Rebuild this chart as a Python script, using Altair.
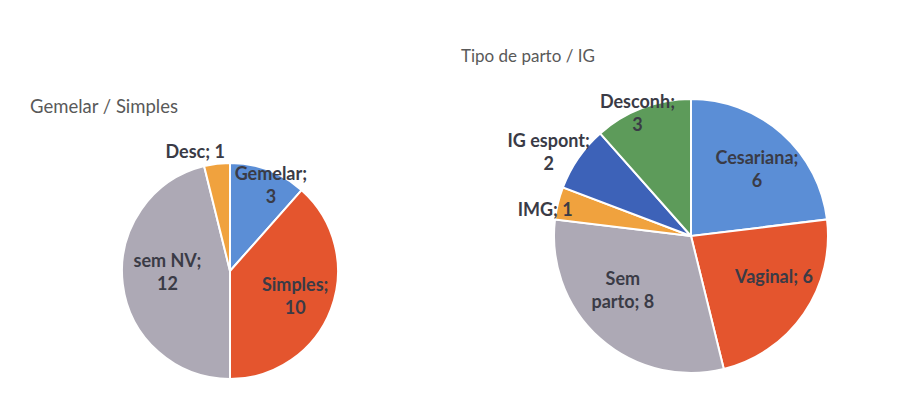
import altair as alt
import pandas as pd

# ---- data ----
left_cats = ["Gemelar", "Simples", "sem NV", "Desc"]
left_vals = [3, 10, 12, 1]
left_labels = ["Gemelar;\n3", "Simples;\n10", "sem NV;\n12", "Desc; 1"]

right_cats = ["Cesariana", "Vaginal", "Sem parto", "IMG", "IG espont", "Desconh"]
right_vals = [6, 6, 8, 1, 2, 3]
right_labels = ["Cesariana;\n6", "Vaginal; 6", "Sem\nparto; 8", "IMG; 1", "IG espont;\n2", "Desconh;\n3"]

# ---- styles / layout ----
left_colors = ["#5B8ED6", "#E4552E", "#ADA9B5", "#F0A23E"]
right_colors = ["#5B8ED6", "#E4552E", "#ADA9B5", "#F0A23E", "#3D62B8", "#5D9B5A"]
# label placement: radius as fraction of pie radius, angular nudge in degrees
left_label_r = [0.87, 0.65, 0.58, 1.14]
left_label_dt = [5, 1, 5, -9.5]
right_label_r = [0.68, 0.68, 0.64, 1.08, 1.2, 0.97]
right_label_dt = [3.5, -7.6, 9.5, -4, -4.6, -3]

FONT = "Lato"
LABEL_LH = 23


def pie(cats, vals, labels, colors, label_r, label_dt, R, title, title_size,
        W, H, xoff, yoff, tdx, tdy):
    total = sum(vals)
    df = pd.DataFrame({
        "cat": cats, "val": vals, "label": labels,
        "order": list(range(len(cats))), "lr": label_r, "dt": label_dt,
    })
    theta_scale = alt.Scale(domain=[0, total])
    arc = alt.Chart(df).mark_arc(
        radius=R, stroke="white", strokeWidth=2, xOffset=xoff, yOffset=yoff
    ).encode(
        theta=alt.Theta("val:Q", stack=True, scale=theta_scale),
        order=alt.Order("order:Q"),
        color=alt.Color("cat:N", scale=alt.Scale(domain=cats, range=colors), legend=None),
    )
    tbase = alt.Chart(df).transform_window(
        cum="sum(val)", sort=[alt.SortField("order")], frame=[None, 0]
    ).transform_calculate(
        mid=f"datum.cum - datum.val / 2 + datum.dt * {total} / 360",
        r=f"datum.lr * {R}",
        lines="indexof(datum.label, '\\n') >= 0 ? 2 : 1",
    ).encode(
        theta=alt.Theta("mid:Q", stack=None, scale=theta_scale),
        radius=alt.Radius("r:Q", scale=None),
        text="label:N",
    )
    style = dict(font=FONT, fontSize=18, fontWeight="bold", color="#3a3b46",
                 lineBreak="\n", lineHeight=LABEL_LH, align="center",
                 baseline="middle", xOffset=xoff)
    text1 = tbase.transform_filter("datum.lines == 1").mark_text(
        yOffset=yoff, **style)
    text2 = tbase.transform_filter("datum.lines == 2").mark_text(
        yOffset=yoff - LABEL_LH / 2, **style)
    return alt.layer(arc, text1, text2).properties(
        width=W, height=H,
        title=alt.Title(title, anchor="start", dx=tdx, dy=tdy, font=FONT,
                        fontSize=title_size, fontWeight="normal", color="#595959",
                        offset=5),
    )


left = pie(left_cats, left_vals, left_labels, left_colors, left_label_r, left_label_dt,
           108, "Gemelar / Simples", 18.5, 430, 320, 7, 40, 22, 50)
right = pie(right_cats, right_vals, right_labels, right_colors, right_label_r, right_label_dt,
            137, "Tipo de parto / IG", 17, 452, 320, 13, 5, 9, 0)

chart = alt.hconcat(left, right, spacing=14).resolve_scale(
    color="independent", theta="independent"
).properties(
    padding={"top": 40, "bottom": 0, "left": 0, "right": 0}
).configure_view(stroke=None).configure(background="white")

chart.save("out.html", embed_options={"renderer": "svg", "actions": False})
